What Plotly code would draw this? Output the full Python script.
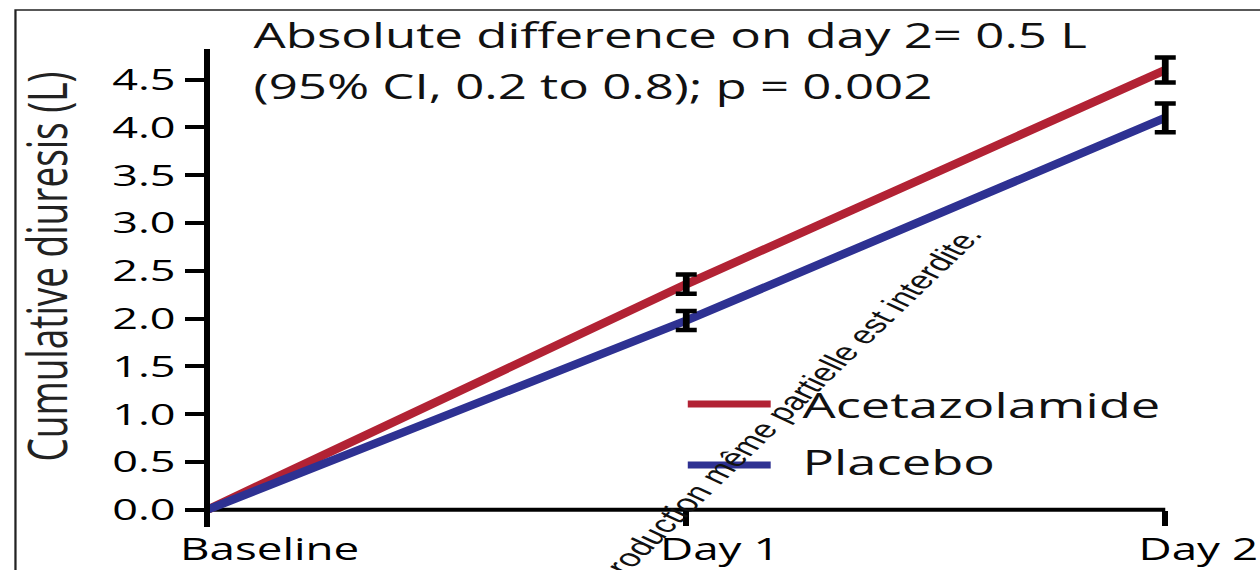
import plotly.graph_objects as go

# ---- data -------------------------------------------------------------
categories = ["Baseline", "Day 1", "Day 2"]
acetazolamide = [0.0, 2.36, 4.60]
acetazolamide_ci = [0.0, 0.10, 0.13]
placebo = [0.0, 1.98, 4.10]
placebo_ci = [0.0, 0.10, 0.15]
y_ticks = [0.0, 0.5, 1.0, 1.5, 2.0, 2.5, 3.0, 3.5, 4.0, 4.5]
series_names = ["Acetazolamide", "Placebo"]
title_lines = ["Absolute difference on day 2= 0.5 L",
               "(95% CI, 0.2 to 0.8); p = 0.002"]
y_title = "Cumulative diuresis (L)"
notice = "reproduction même partielle est interdite."

# ---- style ------------------------------------------------------------
RED = "#b22234"
BLUE = "#2e3192"
FONT = "Open Sans"

# The page is laid out narrow and widened horizontally with a CSS scale.
STRETCH = 1.5
W = 1260 / STRETCH
H = 570
X_PAD = 0.06
Y_RANGE = [-0.18, 4.82]
ML, MR, MT, MB = 118.8, 43.5, 49, 43
PW = W - ML - MR
PH = H - MT - MB


def px(x):
    """screen x (after widening) -> paper fraction"""
    return (x / STRETCH - ML) / PW


def py(y):
    """screen y -> paper fraction"""
    return 1 - (y - MT) / PH


fig = go.Figure()

for name, vals, color in [(series_names[0], acetazolamide, RED),
                          (series_names[1], placebo, BLUE)]:
    fig.add_trace(go.Scatter(x=categories, y=vals, mode="lines", name=name,
                             line=dict(color=color, width=7.7),
                             showlegend=False, hoverinfo="skip"))

# error bars on top of both lines
for vals, ci in [(acetazolamide, acetazolamide_ci), (placebo, placebo_ci)]:
    idx = [i for i, c in enumerate(ci) if c > 0]
    fig.add_trace(go.Scatter(
        x=[categories[i] for i in idx], y=[vals[i] for i in idx],
        mode="markers", marker=dict(size=1, color="rgba(0,0,0,0)"),
        error_y=dict(type="data", array=[ci[i] for i in idx], color="black",
                     thickness=4.5, width=7),
        showlegend=False, hoverinfo="skip"))

n = len(categories)
# x axis line from first to last category at y = 0
fig.add_shape(type="line", xref="x", yref="y", x0=0, x1=n - 1, y0=0, y1=0,
              line=dict(color="black", width=4), layer="below")

annotations = []
# category labels
for c in categories:
    annotations.append(dict(x=c, y=0, xref="x", yref="y", text=c,
                            showarrow=False, xanchor="left", yanchor="middle",
                            xshift=-20, yshift=-38,
                            font=dict(family=FONT, size=30.5, color="black")))
# heading lines
for txt, yc in zip(title_lines, [35, 86]):
    annotations.append(dict(x=px(250), y=py(yc), xref="paper", yref="paper",
                            text=txt, showarrow=False, xanchor="left",
                            yanchor="middle",
                            font=dict(family=FONT, size=34, color="#111")))
# y axis title
annotations.append(dict(x=px(44), y=py(267), xref="paper", yref="paper",
                        text=y_title, showarrow=False, textangle=-90,
                        xanchor="center", yanchor="middle",
                        font=dict(family=FONT, size=37, color="#222")))
# legend
legend_rows = [(series_names[0], RED, 404, 404), (series_names[1], BLUE, 465, 461.5)]
for name, color, yl, yt in legend_rows:
    fig.add_shape(type="line", xref="paper", yref="paper",
                  x0=px(688), x1=px(771), y0=py(yl), y1=py(yl),
                  line=dict(color=color, width=7))
    annotations.append(dict(x=px(800), y=py(yt), xref="paper", yref="paper",
                            text=name, showarrow=False, xanchor="left",
                            yanchor="middle",
                            font=dict(family=FONT, size=35, color="#111")))
# diagonal notice
annotations.append(dict(x=px(778), y=py(415), xref="paper", yref="paper",
                        text=notice, showarrow=False, textangle=-55,
                        xanchor="center", yanchor="middle",
                        font=dict(family="Liberation Sans", size=25, color="#111")))

# frame
fig.add_shape(type="rect", xref="paper", yref="paper",
              x0=px(15), x1=px(1320), y0=py(10), y1=py(620),
              line=dict(color="#222", width=1.5), layer="below")

fig.update_layout(
    width=W, height=H,
    margin=dict(l=ML, r=MR, t=MT, b=MB, autoexpand=False),
    paper_bgcolor="white", plot_bgcolor="white",
    showlegend=False,
    annotations=annotations,
    xaxis=dict(range=[-X_PAD, n - 1 + X_PAD], showline=False, showgrid=False,
               zeroline=False, ticks="outside", ticklen=15, tickwidth=4,
               tickcolor="black", showticklabels=False, anchor="free",
               position=-Y_RANGE[0] / (Y_RANGE[1] - Y_RANGE[0])),
    yaxis=dict(range=Y_RANGE, tickvals=y_ticks,
               ticktext=[f"{v:.1f}" for v in y_ticks],
               ticks="outside", ticklen=13, tickwidth=4, tickcolor="black",
               showline=True, linewidth=4.2, linecolor="black",
               showgrid=False, zeroline=False, anchor="free",
               position=X_PAD / (n - 1 + 2 * X_PAD),
               tickfont=dict(family=FONT, size=30, color="black")),
)

widen = ("document.body.style.margin='0';"
         "var gd=document.getElementById('{plot_id}');"
         "gd.style.transformOrigin='0 0';"
         "gd.style.transform='scaleX(%s)';" % STRETCH)

fig.write_html("out.html", post_script=widen,
               config={"displayModeBar": False})
